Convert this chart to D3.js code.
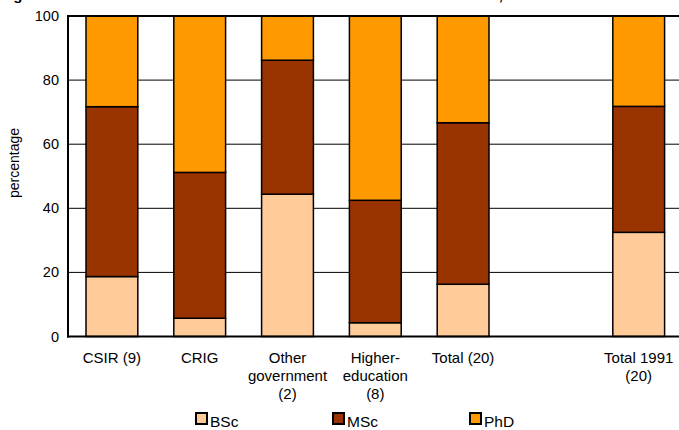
<!DOCTYPE html>
<html>
<head>
<meta charset="utf-8">
<script src="https://cdn.jsdelivr.net/npm/d3@7"></script>
<style>
  html, body { margin: 0; padding: 0; background: #fff; }
  svg { display: block; font-family: "Liberation Sans", Arial, sans-serif; }
</style>
</head>
<body>
<svg id="chart" width="679" height="430"></svg>
<script>
// Qualification mix of researchers per sector (percent of researchers)
const categories = ["CSIR (9)", "CRIG", "Other government (2)", "Higher-education (8)", "Total (20)", "gap", "Total 1991 (20)"];
const categoryLines = [["CSIR (9)"], ["CRIG"], ["Other", "government", "(2)"], ["Higher-", "education", "(8)"], ["Total (20)"], [], ["Total 1991", "(20)"]];
const bscValues = [18.7, 5.7, 44.4, 4.3, 16.3, null, 32.5];
const mscValues = [53.0, 45.5, 41.8, 38.2, 50.4, null, 39.3];
const phdValues = [28.3, 48.8, 13.8, 57.5, 33.3, null, 28.2];
const seriesNames = ["BSc", "MSc", "PhD"];
const seriesColors = ["#FFCC99", "#993300", "#FF9900"];
const yTicks = [0, 20, 40, 60, 80, 100];
const yAxisTitle = "percentage";
const chartTitle = "Figure 4: Academic level of the researchers in each sector and in total, 1991 and 2001";

const svg = d3.select("#chart");
const W = 679;
const plot = { left: 68, right: 682.6, top: 16, bottom: 336.5 };

const x = d3.scaleBand()
  .domain(categories)
  .range([plot.left, plot.right])
  .paddingInner(0.41)
  .paddingOuter(0.205);

const y = d3.scaleLinear().domain([0, 100]).range([plot.bottom, plot.top]);

// Title sits above the top edge; only its descenders reach into view
svg.append("text")
  .attr("x", 0).attr("y", -0.5)
  .attr("font-size", 15).attr("font-weight", "bold")
  .text(chartTitle);

// Horizontal gridlines
svg.append("g").selectAll("line")
  .data(yTicks.filter(t => t > 0 && t < 100))
  .join("line")
  .attr("x1", plot.left).attr("x2", W)
  .attr("y1", d => y(d)).attr("y2", d => y(d))
  .attr("stroke", "#000").attr("stroke-width", 1);

// Stacked bars
const table = categories.map((c, i) => ({
  cat: c, BSc: bscValues[i], MSc: mscValues[i], PhD: phdValues[i]
})).filter(d => d.BSc !== null);

const stacked = d3.stack().keys(seriesNames)(table);

svg.append("g").selectAll("g")
  .data(stacked)
  .join("g")
  .attr("fill", (d, i) => seriesColors[i])
  .selectAll("rect")
  .data(d => d)
  .join("rect")
  .attr("x", d => x(d.data.cat))
  .attr("width", x.bandwidth())
  .attr("y", d => y(d[1]))
  .attr("height", d => y(d[0]) - y(d[1]))
  .attr("stroke", "#000").attr("stroke-width", 1.5);

// Top frame line at 100, x axis and y axis
svg.append("line")
  .attr("x1", plot.left).attr("x2", W)
  .attr("y1", y(100)).attr("y2", y(100))
  .attr("stroke", "#000").attr("stroke-width", 2);
svg.append("line")
  .attr("x1", plot.left - 1).attr("x2", W)
  .attr("y1", y(0)).attr("y2", y(0))
  .attr("stroke", "#000").attr("stroke-width", 2);
svg.append("line")
  .attr("x1", plot.left).attr("x2", plot.left)
  .attr("y1", y(100) - 1).attr("y2", y(0) + 1)
  .attr("stroke", "#000").attr("stroke-width", 2);

// Y tick labels
svg.append("g").selectAll("text")
  .data(yTicks)
  .join("text")
  .attr("x", plot.left - 9)
  .attr("y", d => y(d))
  .attr("dy", "0.35em")
  .attr("text-anchor", "end")
  .attr("font-size", 14.5)
  .text(d => d);

// Y axis title
svg.append("text")
  .attr("transform", `translate(19, 163) rotate(-90)`)
  .attr("text-anchor", "middle")
  .attr("font-size", 14)
  .text(yAxisTitle);

// Category labels (multi-line)
const catLabels = svg.append("g").selectAll("text")
  .data(categories.map((c, i) => ({ c, lines: categoryLines[i] })))
  .join("text")
  .attr("text-anchor", "middle")
  .attr("font-size", 15)
  .attr("transform", d => `translate(${x(d.c) + x.bandwidth() / 2}, 363)`);
catLabels.selectAll("tspan")
  .data(d => d.lines)
  .join("tspan")
  .attr("x", 0)
  .attr("y", (d, i) => i * 18)
  .text(d => d);

// Legend
const legend = svg.append("g").selectAll("g")
  .data(seriesNames)
  .join("g")
  .attr("transform", (d, i) => `translate(${196 + i * 137}, 413)`);
legend.append("rect")
  .attr("width", 11).attr("height", 11)
  .attr("fill", (d, i) => seriesColors[i])
  .attr("stroke", "#000").attr("stroke-width", 2);
legend.append("text")
  .attr("x", 14).attr("y", 13.5)
  .attr("font-size", 15.5)
  .text(d => d);
</script>
</body>
</html>
